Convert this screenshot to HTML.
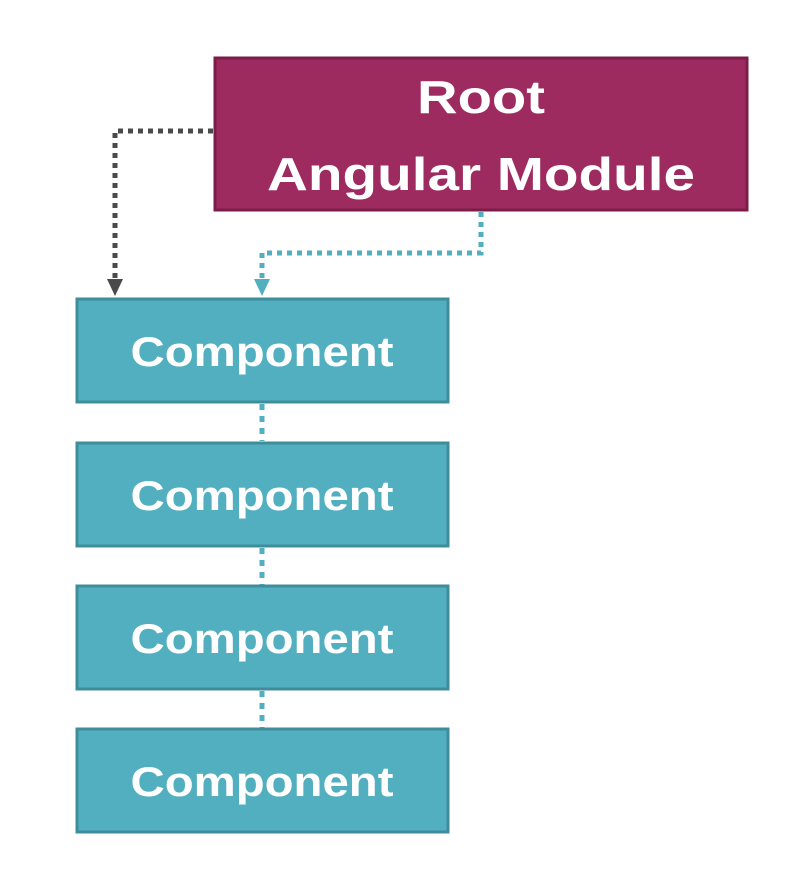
<!DOCTYPE html>
<html><head><style>
html,body{margin:0;padding:0;background:#fff;width:812px;height:886px;overflow:hidden}
</style></head><body>
<svg width="812" height="886" xmlns="http://www.w3.org/2000/svg" font-family="Liberation Sans, sans-serif" font-weight="bold">
<rect x="215" y="58" width="532" height="152" fill="#9e2b60" stroke="#7a1d48" stroke-width="3"/>
<text x="481" y="113" fill="#fff" font-size="46" text-anchor="middle" textLength="128" lengthAdjust="spacingAndGlyphs">Root</text>
<text x="481" y="190" fill="#fff" font-size="46" text-anchor="middle" textLength="428" lengthAdjust="spacingAndGlyphs">Angular Module</text>
<path d="M213 131 H115 V280" fill="none" stroke="#4a4a4a" stroke-width="5" stroke-dasharray="5 5"/>
<polygon points="107,279 123,279 115,296" fill="#4a4a4a"/>
<path d="M481 212 V253 H262 V280" fill="none" stroke="#52afc0" stroke-width="5" stroke-dasharray="5 5"/>
<polygon points="254,279 270,279 262,296" fill="#52afc0"/>
<g stroke="#52afc0" stroke-width="5" stroke-dasharray="6 6">
<line x1="262" y1="404" x2="262" y2="441"/>
<line x1="262" y1="548" x2="262" y2="585"/>
<line x1="262" y1="691" x2="262" y2="728"/>
</g>
<g fill="#52afc0" stroke="#3f8d9a" stroke-width="3">
<rect x="77" y="299" width="371" height="103"/>
<rect x="77" y="443" width="371" height="103"/>
<rect x="77" y="586" width="371" height="103"/>
<rect x="77" y="729" width="371" height="103"/>
</g>
<g fill="#fff" font-size="42" text-anchor="middle">
<text x="262" y="366" textLength="263" lengthAdjust="spacingAndGlyphs">Component</text>
<text x="262" y="510" textLength="263" lengthAdjust="spacingAndGlyphs">Component</text>
<text x="262" y="653" textLength="263" lengthAdjust="spacingAndGlyphs">Component</text>
<text x="262" y="796" textLength="263" lengthAdjust="spacingAndGlyphs">Component</text>
</g>
</svg>
</body></html>
